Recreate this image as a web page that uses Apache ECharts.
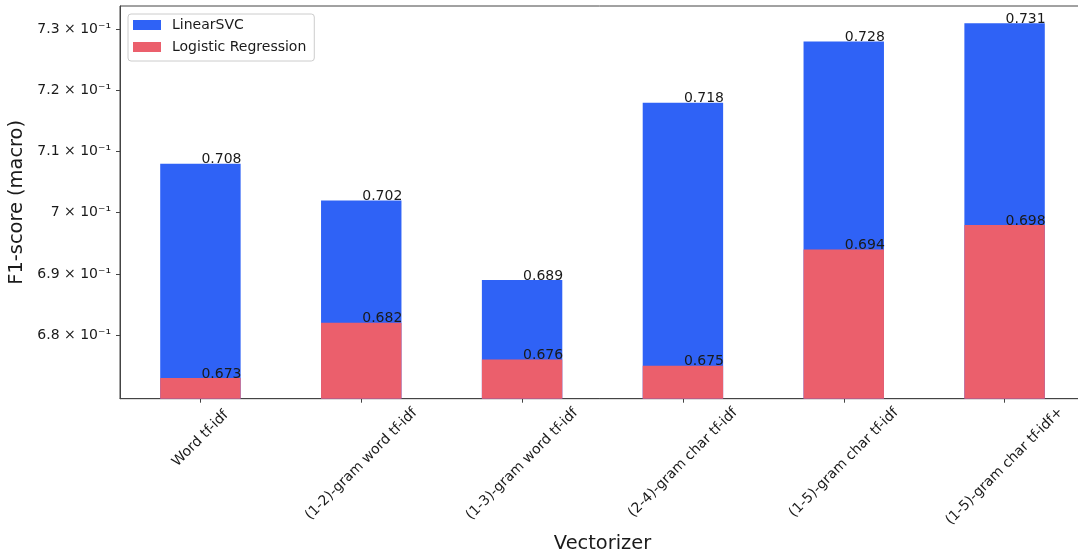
<!DOCTYPE html>
<html><head><meta charset="utf-8">
<script src="https://cdn.jsdelivr.net/npm/echarts@6/dist/echarts.min.js"></script>
<style>html,body{margin:0;padding:0;background:#fff}#c{width:1078px;height:550px}</style>
</head><body><div id="c"></div>
<script>
const categories = ['Word tf-idf', '(1-2)-gram word tf-idf', '(1-3)-gram word tf-idf', '(2-4)-gram char tf-idf', '(1-5)-gram char tf-idf', '(1-5)-gram char tf-idf+'];
const linearSVC = [0.708, 0.702, 0.689, 0.718, 0.728, 0.731];
const logReg = [0.673, 0.682, 0.676, 0.675, 0.694, 0.698];
const yTicks = [0.68, 0.69, 0.70, 0.71, 0.72, 0.73];
const seriesNames = ['LinearSVC', 'Logistic Regression'];
const yName = 'F1-score (macro)';
const xName = 'Vectorizer';

const FONT = 'DejaVu Sans';
const LABEL_SIZE = 14;
const TEXT_COLOR = '#1a1a1a';
const ctx = document.createElement('canvas').getContext('2d');
ctx.font = LABEL_SIZE + 'px "' + FONT + '"';
const rich = {};
categories.forEach(function (c, i) {
  const L = ctx.measureText(c).width;
  const p = Math.round(L * 0.46);
  rich['c' + i] = { fontFamily: FONT, fontSize: LABEL_SIZE, color: TEXT_COLOR, padding: [p, p, 0, 0] };
});

function fmtY(v) {
  let m = (v * 10).toFixed(1);
  if (m.endsWith('.0')) m = m.slice(0, -2);
  return m + ' × 10⁻¹';
}

const barLabel = {
  show: true, position: ['50%', 0], align: 'left', verticalAlign: 'bottom', offset: [1, 3],
  fontFamily: FONT, fontSize: 14, color: TEXT_COLOR,
  formatter: function (p) { return p.value.toFixed(3); }
};
const axisColor = '#444';

const chart = echarts.init(document.getElementById('c'), null, { renderer: 'canvas' });
chart.setOption({
  animation: false,
  backgroundColor: '#fff',
  textStyle: { fontFamily: FONT },
  grid: { left: 120, top: 6, width: 965, height: 392.7, show: true, borderColor: axisColor, borderWidth: 1, containLabel: false, outerBoundsMode: 'none' },
  legend: {
    orient: 'vertical', left: 128, top: 14, padding: [4, 8, 7, 5],
    itemWidth: 28, itemHeight: 10, itemGap: 8, icon: 'rect',
    borderColor: '#cccccc', borderWidth: 1, borderRadius: 3, backgroundColor: 'rgba(255,255,255,0.8)',
    textStyle: { fontFamily: FONT, fontSize: 14, color: TEXT_COLOR, padding: [0, 0, 0, 6] },
    data: seriesNames
  },
  xAxis: {
    type: 'category', data: categories,
    axisLine: { show: true, lineStyle: { color: axisColor, width: 1 } },
    axisTick: { show: true, alignWithLabel: true, length: 4, lineStyle: { color: axisColor } },
    axisLabel: {
      interval: 0, rotate: 45, align: 'center', verticalAlign: 'middle', margin: 16,
      formatter: function (v, i) { return '{c' + i + '|' + v + '}'; }, rich: rich
    },
    name: xName, nameLocation: 'middle', nameGap: 124,
    nameTextStyle: { fontFamily: FONT, fontSize: 19.4, color: TEXT_COLOR }
  },
  yAxis: {
    type: 'value', min: 0.6696, max: 0.7338,
    splitLine: { show: false },
    axisLine: { show: true, lineStyle: { color: axisColor, width: 1 } },
    axisTick: { show: true, length: 4, customValues: yTicks, lineStyle: { color: axisColor } },
    axisLabel: { customValues: yTicks, formatter: fmtY, margin: 9, fontFamily: FONT, fontSize: 14, color: TEXT_COLOR },
    name: yName, nameLocation: 'middle', nameGap: 89,
    nameTextStyle: { fontFamily: FONT, fontSize: 19.4, color: TEXT_COLOR }
  },
  series: [
    { name: seriesNames[0], type: 'bar', data: linearSVC, barWidth: '50%', barGap: '-100%', clip: true,
      itemStyle: { color: '#2f62f6' }, label: barLabel },
    { name: seriesNames[1], type: 'bar', data: logReg, barWidth: '50%', barGap: '-100%', clip: true,
      itemStyle: { color: '#eb5f6c' }, label: barLabel }
  ]
});
</script>
</body></html>
